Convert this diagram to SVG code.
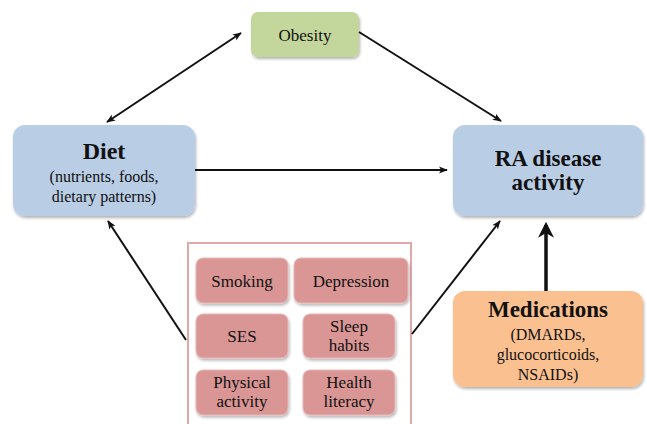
<svg xmlns="http://www.w3.org/2000/svg" width="647" height="424" viewBox="0 0 647 424">
<defs>
<filter id="sh" x="-10%" y="-10%" width="125%" height="130%">
<feGaussianBlur in="SourceAlpha" stdDeviation="1.5"/>
<feOffset dx="1" dy="2" result="b"/>
<feComponentTransfer><feFuncA type="linear" slope="0.3"/></feComponentTransfer>
<feMerge><feMergeNode/><feMergeNode in="SourceGraphic"/></feMerge>
</filter>
<marker id="ah" viewBox="0 0 10 10" refX="9" refY="5" markerWidth="9" markerHeight="9" orient="auto-start-reverse" markerUnits="userSpaceOnUse">
<path d="M0,1 L10,5 L0,9 L2.5,5 Z" fill="#111"/>
</marker>
<marker id="ahb" viewBox="0 0 10 10" refX="8" refY="5" markerWidth="16" markerHeight="16" orient="auto" markerUnits="userSpaceOnUse">
<path d="M0,0 L10,5 L0,10 L3,5 Z" fill="#111"/>
</marker>
</defs>
<style>
text{font-family:"Liberation Serif","Times New Roman",serif;fill:#111;text-anchor:middle}
.t{font-size:16px}
.b{font-weight:bold}
.blue{fill:#b9cde5;filter:url(#sh)}
.red{fill:#d99694;stroke:#e6b9b8;stroke-width:1;filter:url(#sh)}
.ln{stroke:#111;stroke-width:2;fill:none}
</style>
<rect width="647" height="424" fill="#fff"/>
<g id="obesity">
<rect x="251" y="12" width="108" height="45" rx="7" fill="#c3d69b" style="filter:url(#sh)"/>
<text x="305" y="41" font-size="17">Obesity</text>
</g>
<g id="diet">
<rect x="13" y="125" width="182" height="91" rx="12" class="blue"/>
<text x="104" y="159" font-size="24" class="b">Diet</text>
<text x="104" y="182" class="t">(nutrients, foods,</text>
<text x="104" y="202" class="t">dietary patterns)</text>
</g>
<g id="ra">
<rect x="453" y="125" width="190" height="91" rx="12" class="blue"/>
<text x="548" y="166" font-size="23" class="b">RA disease</text>
<text x="548" y="190" font-size="23" class="b">activity</text>
</g>
<g id="medications">
<rect x="453" y="291" width="190" height="96" rx="12" fill="#fac090" style="filter:url(#sh)"/>
<text x="548" y="317" font-size="23" class="b">Medications</text>
<text x="548" y="340" class="t">(DMARDs,</text>
<text x="548" y="360" class="t">glucocorticoids,</text>
<text x="548" y="380" class="t">NSAIDs)</text>
</g>
<g id="factors">
<rect x="188" y="243" width="223" height="190" fill="#fff" stroke="#e0a9a8" stroke-width="2"/>
<g id="smoking"><rect x="196" y="258" width="92" height="45" rx="7" class="red"/><text x="242" y="287" font-size="17">Smoking</text></g>
<g id="depression"><rect x="294" y="258" width="114" height="45" rx="7" class="red"/><text x="351" y="287" font-size="17">Depression</text></g>
<g id="ses"><rect x="196" y="314" width="92" height="44" rx="7" class="red"/><text x="242" y="342" font-size="17">SES</text></g>
<g id="sleep"><rect x="303" y="314" width="92" height="44" rx="7" class="red"/><text x="349" y="332" font-size="17">Sleep</text><text x="349" y="351" font-size="17">habits</text></g>
<g id="physical"><rect x="196" y="370" width="92" height="45" rx="7" class="red"/><text x="242" y="388" font-size="17">Physical</text><text x="242" y="407" font-size="17">activity</text></g>
<g id="health"><rect x="303" y="370" width="92" height="45" rx="7" class="red"/><text x="349" y="388" font-size="17">Health</text><text x="349" y="407" font-size="17">literacy</text></g>
</g>
<g id="connectors">
<line x1="107" y1="122" x2="241" y2="33" class="ln" marker-start="url(#ah)" marker-end="url(#ah)"/>
<line x1="359" y1="32" x2="501" y2="121" class="ln" marker-end="url(#ah)"/>
<line x1="195" y1="170" x2="447" y2="170" class="ln" marker-end="url(#ah)"/>
<line x1="186" y1="340" x2="108" y2="221" class="ln" marker-end="url(#ah)"/>
<line x1="412" y1="334" x2="500" y2="221" class="ln" marker-end="url(#ah)"/>
<line x1="546" y1="291" x2="546" y2="225" stroke="#111" stroke-width="3.5" marker-end="url(#ahb)"/>
</g>
</svg>
